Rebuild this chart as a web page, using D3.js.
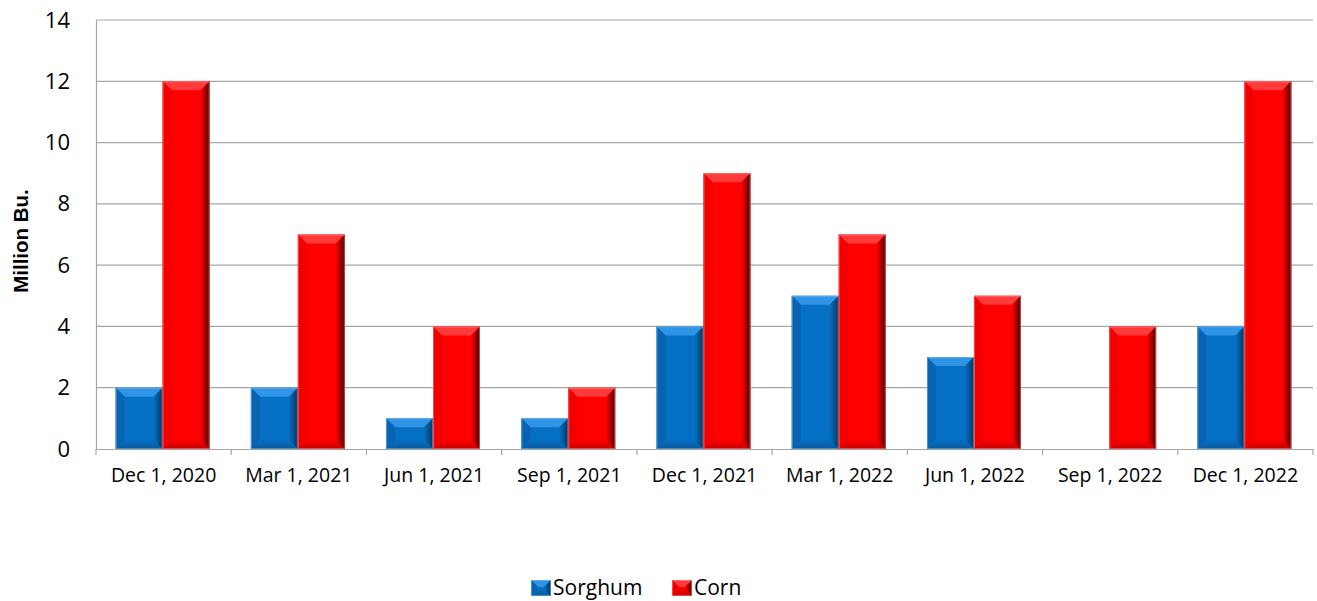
<!DOCTYPE html>
<html>
<head>
<meta charset="utf-8">
<script src="https://cdn.jsdelivr.net/npm/d3@7"></script>
<style>
  body { margin: 0; background: #fff; }
  svg text { font-family: "Open Sans", Lato, sans-serif; fill: #000; }
</style>
</head>
<body>
<div id="chart"></div>
<script>
// --- datos ---
const categories = ["Dec 1, 2020", "Mar 1, 2021", "Jun 1, 2021", "Sep 1, 2021", "Dec 1, 2021",
                    "Mar 1, 2022", "Jun 1, 2022", "Sep 1, 2022", "Dec 1, 2022"];
const sorghum = [2, 2, 1, 1, 4, 5, 3, 0, 4];
const corn = [12, 7, 4, 2, 9, 7, 5, 4, 12];
const seriesNames = ["Sorghum", "Corn"];
const yTicks = [0, 2, 4, 6, 8, 10, 12, 14];

const width = 1317, height = 601;
const margin = { top: 20, right: 4, bottom: 152, left: 96 };

const svg = d3.select("#chart").append("svg")
    .attr("width", width).attr("height", height);

const x = d3.scaleBand().domain(categories)
    .range([margin.left, width - margin.right]).paddingInner(0).paddingOuter(0);
const xs = d3.scaleBand().domain(seriesNames)
    .range([-1, x.bandwidth() - 1]).paddingInner(0).paddingOuter(0.44);
const y = d3.scaleLinear().domain([0, 14]).range([height - margin.bottom, margin.top]);

// colores: base, luz, sombra, oscuro
const palette = {
  Sorghum: { base: "#0670c4", light: "#2f93e6", left: "#0864b2", bottom: "#075a9f", dark: "#04355f", edge: "#8fbfe8" },
  Corn:    { base: "#ff0000", light: "#ff3a3a", left: "#f20000", bottom: "#c40000", dark: "#4a0000", edge: "#ff9a9a" }
};

// degradados para el lado derecho y la base
const defs = svg.append("defs");
seriesNames.forEach(s => {
  const g = defs.append("linearGradient").attr("id", "rg-" + s)
      .attr("x1", "0").attr("x2", "1").attr("y1", "0").attr("y2", "0");
  g.append("stop").attr("offset", "0").attr("stop-color", palette[s].base);
  g.append("stop").attr("offset", "1").attr("stop-color", palette[s].dark);
  const gb = defs.append("linearGradient").attr("id", "bg-" + s)
      .attr("x1", "0").attr("x2", "0").attr("y1", "0").attr("y2", "1");
  gb.append("stop").attr("offset", "0").attr("stop-color", palette[s].base);
  gb.append("stop").attr("offset", "1").attr("stop-color", palette[s].bottom);
});

// rejilla
svg.append("g").selectAll("line").data(yTicks.filter(d => d > 0)).enter().append("line")
    .attr("x1", margin.left).attr("x2", width - margin.right)
    .attr("y1", d => y(d)).attr("y2", d => y(d))
    .attr("stroke", "#a6a6a6").attr("stroke-width", 1.2);

// eje Y
const yAxis = svg.append("g").attr("transform", `translate(${margin.left},0)`)
    .call(d3.axisLeft(y).tickValues(yTicks).tickSize(0).tickPadding(26));
yAxis.select(".domain").attr("stroke", "#a6a6a6").attr("stroke-width", 1.2);
yAxis.selectAll("text").style("font-size", "22px");

// eje X
const xAxis = svg.append("g").attr("transform", `translate(0,${y(0)})`)
    .call(d3.axisBottom(x).tickSize(0).tickPadding(19));
xAxis.select(".domain").attr("stroke", "#a6a6a6").attr("stroke-width", 1.2);
xAxis.selectAll("text").style("font-size", "19.5px");
const bounds = [margin.left].concat(categories.map(c => x(c) + x.bandwidth()));
svg.append("g").selectAll("line").data(bounds).enter().append("line")
    .attr("x1", d => d).attr("x2", d => d)
    .attr("y1", y(0)).attr("y2", y(0) + 6)
    .attr("stroke", "#a6a6a6").attr("stroke-width", 1.2);

// barras biseladas
const rows = [];
categories.forEach((c, i) => {
  rows.push({ cat: c, s: "Sorghum", v: sorghum[i] });
  rows.push({ cat: c, s: "Corn", v: corn[i] });
});

function bevelBar(g, x0, y0, w, h, col, s, bev) {
  if (h <= 0) return;
  const b = Math.min(bev, h / 2, w / 2);
  const x1 = x0 + w, y1 = y0 + h;
  g.append("rect").attr("x", x0).attr("y", y0).attr("width", w).attr("height", h)
      .attr("fill", col.base);
  const poly = (pts, fill) => g.append("polygon")
      .attr("points", pts.map(p => p.join(",")).join(" ")).attr("fill", fill);
  poly([[x0, y0], [x1, y0], [x1 - b, y0 + b], [x0 + b, y0 + b]], col.light);
  poly([[x0, y0], [x0 + b, y0 + b], [x0 + b, y1 - b], [x0, y1]], col.left);
  poly([[x0, y1], [x0 + b, y1 - b], [x1 - b, y1 - b], [x1, y1]], `url(#bg-${s})`);
  poly([[x1, y0], [x1, y1], [x1 - b, y1 - b], [x1 - b, y0 + b]], `url(#rg-${s})`);
  g.append("rect").attr("x", x0 + 0.5).attr("y", y0 + 0.5).attr("width", w - 1).attr("height", h - 1)
      .attr("fill", "none").attr("stroke", col.edge).attr("stroke-opacity", 0.5);
}

const barsG = svg.append("g");
rows.forEach(d => {
  const g = barsG.append("g");
  bevelBar(g, x(d.cat) + xs(d.s), y(d.v), xs.bandwidth(), y(0) - y(d.v), palette[d.s], d.s, 9);
});

// título eje Y
svg.append("text")
    .attr("transform", "translate(28,241) rotate(-90)")
    .attr("text-anchor", "middle")
    .style("font-family", "'Liberation Sans', Arial, sans-serif")
    .style("font-weight", "bold").style("font-size", "20.5px")
    .text("Million Bu.");

// leyenda
const legend = svg.append("g").attr("transform", "translate(531,580)");
const legX = [0, 141];
seriesNames.forEach((s, i) => {
  const g = legend.append("g").attr("transform", `translate(${legX[i]},0)`);
  bevelBar(g, 0, 0, 20, 16, palette[s], s, 7);
  g.append("text").attr("x", 22).attr("y", 15).style("font-size", "21px").text(s);
});
</script>
</body>
</html>
